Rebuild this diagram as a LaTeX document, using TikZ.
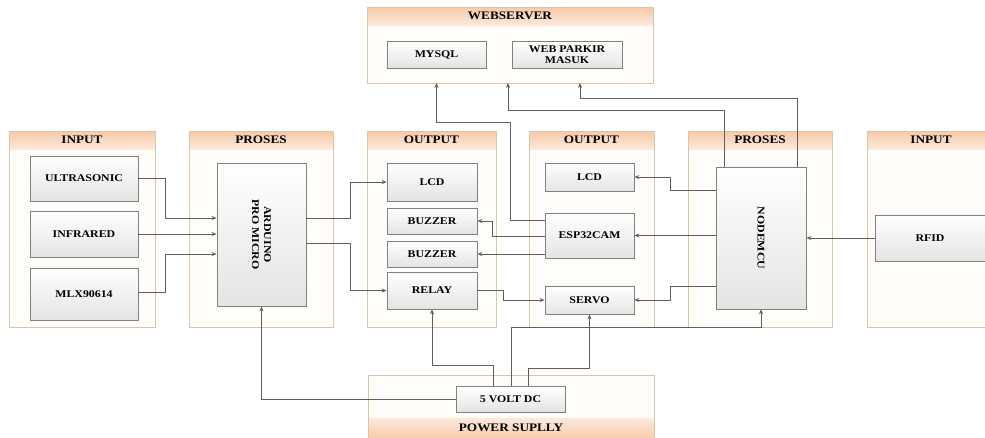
\documentclass[tikz,border=0pt]{standalone}
\usepackage{fontspec}
\setmainfont[FakeStretch=1.15]{Liberation Serif}
\usetikzlibrary{arrows.meta}

\definecolor{wirecol}{HTML}{5E5E5E}
\definecolor{boxline}{HTML}{808080}
\definecolor{boxbot}{HTML}{E4E4E4}
\definecolor{lanecol}{HTML}{D9C5AA}
\definecolor{lanefill}{HTML}{FFFDFA}
\definecolor{hdtop}{HTML}{F6C9A8}
\definecolor{hdbot}{HTML}{FCE9DB}

\newcommand{\boxfont}{\fontsize{10.3}{11}\selectfont\bfseries}
\newcommand{\titlefont}{\fontsize{11.5}{12}\selectfont\bfseries}

\begin{document}
\begin{tikzpicture}[x=1pt,y=-1pt,
    box/.style={draw=boxline, line width=0.8pt, top color=white, bottom color=boxbot,
      inner sep=0pt, font=\boxfont, align=center},
    wire/.style={draw=wirecol, line width=0.8pt, -{Stealth[length=5pt,width=4pt]}},
    lane/.style={draw=lanecol, line width=1pt, fill=lanefill},
    title/.style={font=\titlefont, inner sep=0pt}]
		\clip (0,0) rectangle (985,437);
		\fill[white] (0,0) rectangle (985,437);
		% lanes
		\foreach \xa/\xb/\ttl [count=\i] in {9/155/INPUT, 189/333/PROSES, 367/496/OUTPUT,
		    529/654/OUTPUT, 688/832/PROSES, 867/995/INPUT} {
		  \fill[lanefill] (\xa,131) rectangle (\xb,327);
		  \shade[top color=hdtop, bottom color=hdbot] (\xa,131) rectangle (\xb,149);
		  \draw[lanecol, line width=1pt] (\xa,131) rectangle (\xb,327);
		  \node[title] (lane\i) at ({(\xa+\xb)/2},140) {\ttl};
		}
		% webserver
		\fill[lanefill] (367,7) rectangle (653,83);
		\shade[top color=hdtop, bottom color=hdbot] (367,7) rectangle (653,25);
		\draw[lanecol, line width=1pt] (367,7) rectangle (653,83);
		\node[title] (wstitle) at (510,16) {WEBSERVER};
		\coordinate (wsbot) at (510,83);
		% power supply
		\fill[lanefill] (368,375) rectangle (654,440);
		\shade[top color=hdbot, bottom color=hdtop] (368,418) rectangle (654,440);
		\draw[lanecol, line width=1pt] (368,375) rectangle (654,440);
		\node[title] (pstitle) at (511,428) {POWER SUPLLY};

		% blocks
		\node[box, minimum width=108pt, minimum height=45pt] (ultra) at (84,178.5) {ULTRASONIC};
		\node[box, minimum width=108pt, minimum height=46pt] (infra) at (84,234) {INFRARED};
		\node[box, minimum width=108pt, minimum height=52pt] (mlx) at (84,294) {MLX90614};
		\node[box, minimum width=89pt, minimum height=143pt] (ard) at (261.5,234.5) {};
		\node[font=\boxfont, rotate=-90, align=center, inner sep=0pt] (ardtxt) at (ard) {ARDUINO\\[1pt]PRO MICRO};
		\node[box, minimum width=90pt, minimum height=38pt] (lcda) at (432,182) {LCD};
		\node[box, minimum width=90pt, minimum height=26pt] (buza) at (432,221) {BUZZER};
		\node[box, minimum width=90pt, minimum height=26pt] (buzb) at (432,254) {BUZZER};
		\node[box, minimum width=90pt, minimum height=37pt] (relay) at (432,290.5) {RELAY};
		\node[box, minimum width=89pt, minimum height=28pt] (lcdb) at (589.5,177) {LCD};
		\node[box, minimum width=89pt, minimum height=45pt] (esp) at (589.5,235.5) {ESP32CAM};
		\node[box, minimum width=89pt, minimum height=28pt] (servo) at (589.5,300) {SERVO};
		\node[box, minimum width=90pt, minimum height=142pt] (nmcu) at (761,238) {};
		\node[font=\boxfont, rotate=-90, inner sep=0pt] (nmcutxt) at (nmcu) {NODEMCU};
		\node[box, minimum width=110pt, minimum height=46pt] (rfid) at (930,238) {RFID};
		\node[box, minimum width=99pt, minimum height=27pt] (mysql) at (436.5,54.5) {MYSQL};
		\node[box, minimum width=110pt, minimum height=27pt] (web) at (567,54.5) {WEB PARKIR\\MASUK};
		\node[box, minimum width=109pt, minimum height=26pt] (volt) at (510.5,399) {5 VOLT DC};

		% inputs to arduino
		\draw[wire] (ultra.east) -| (165,218) -- (ard.west |- 0,218);
		\draw[wire] (infra.east) -- (ard.west |- infra.east);
		\draw[wire] (mlx.east |- 0,292) -| (165,254) -- (ard.west |- 0,254);
		% arduino to outputs
		\draw[wire] (ard.east |- 0,218) -| (350,182) -- (lcda.west);
		\draw[wire] (ard.east |- 0,243) -| (350,290.5) -- (relay.west);
		\draw[wire] (relay.east) -| (503,300) -- (servo.west);
		% esp32cam
		\draw[wire] (esp.west |- 0,236) -| (492,221) -- (buza.east);
		\draw[wire] (esp.west |- buzb.east) -- (buzb.east);
		\draw[wire] (esp.west |- 0,220) -| (510,122) -| (mysql.south |- wsbot);
		% nodemcu
		\draw[wire] (rfid.west) -- (nmcu.east);
		\draw[wire] (nmcu.west |- 0,190) -| (670,177) -- (lcdb.east);
		\draw[wire] (nmcu.west |- esp.east) -- (esp.east);
		\draw[wire] (nmcu.west |- 0,286) -| (670,300) -- (servo.east);
		\draw[wire] (nmcu.north -| 724,0) |- (508,110) -- (wsbot -| 508,0);
		\draw[wire] (nmcu.north -| 797,0) |- (580,98) -- (wsbot -| 580,0);
		% power
		\draw[wire] (volt.west) -| (ard.south);
		\draw[wire] (volt.north -| 493,0) |- (432,365) -- (relay.south);
		\draw[wire] (volt.north -| 511,0) |- (761,327) -- (nmcu.south);
		\draw[wire] (volt.north -| 528,0) |- (589.5,368) -- (servo.south);
\end{tikzpicture}
\end{document}
